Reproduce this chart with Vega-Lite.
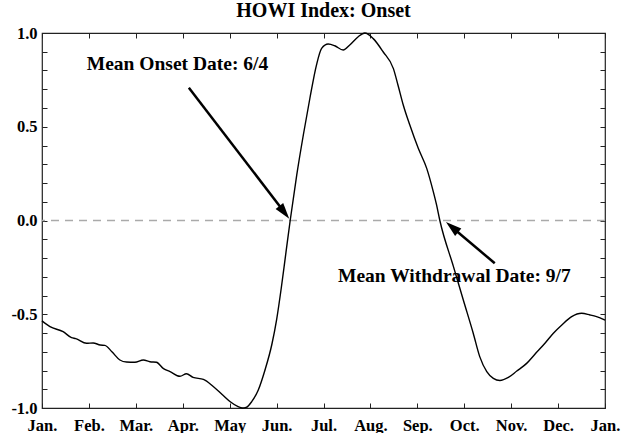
{
  "$schema": "https://vega.github.io/schema/vega-lite/v6.json",
  "width": 563,
  "height": 375,
  "autosize": "none",
  "padding": {"left": 42, "top": 33, "right": 18, "bottom": 25},
  "background": "white",
  "title": {"text": "HOWI Index: Onset", "font": "Liberation Serif", "fontSize": 20, "fontWeight": "bold", "color": "black", "anchor": "middle", "offset": 4},
  "config": {
    "view": {"stroke": "#222", "strokeWidth": 1.2},
    "font": "Liberation Serif",
    "axis": {"grid": false, "domain": false, "title": null, "tickSize": -5, "tickColor": "#222", "tickWidth": 1, "labelFont": "Liberation Serif", "labelFontWeight": "bold", "labelFontSize": 16.5, "labelColor": "black", "labelOverlap": false, "labelFlush": false}
  },
  "datasets": {
    "curve": [
      {"m": 0.0, "v": -0.535}, {"m": 0.17, "v": -0.566}, {"m": 0.45, "v": -0.593}, {"m": 0.63, "v": -0.625}, {"m": 0.72, "v": -0.63},
      {"m": 0.95, "v": -0.655}, {"m": 1.09, "v": -0.653}, {"m": 1.24, "v": -0.664}, {"m": 1.34, "v": -0.666}, {"m": 1.49, "v": -0.70},
      {"m": 1.66, "v": -0.744}, {"m": 1.8, "v": -0.755}, {"m": 1.98, "v": -0.756}, {"m": 2.16, "v": -0.744}, {"m": 2.3, "v": -0.753},
      {"m": 2.44, "v": -0.756}, {"m": 2.59, "v": -0.79}, {"m": 2.73, "v": -0.806}, {"m": 2.94, "v": -0.831}, {"m": 3.08, "v": -0.817},
      {"m": 3.22, "v": -0.837}, {"m": 3.44, "v": -0.847}, {"m": 3.65, "v": -0.885}, {"m": 3.84, "v": -0.928}, {"m": 4.02, "v": -0.968},
      {"m": 4.18, "v": -0.993}, {"m": 4.27, "v": -1.0}, {"m": 4.35, "v": -0.997}, {"m": 4.47, "v": -0.966}, {"m": 4.61, "v": -0.904},
      {"m": 4.75, "v": -0.8}, {"m": 4.9, "v": -0.66}, {"m": 5.0, "v": -0.53}, {"m": 5.1, "v": -0.36}, {"m": 5.2, "v": -0.17},
      {"m": 5.29, "v": 0.0}, {"m": 5.43, "v": 0.243}, {"m": 5.57, "v": 0.456}, {"m": 5.71, "v": 0.652}, {"m": 5.85, "v": 0.829},
      {"m": 5.96, "v": 0.918}, {"m": 6.1, "v": 0.941}, {"m": 6.24, "v": 0.932}, {"m": 6.42, "v": 0.909}, {"m": 6.56, "v": 0.936},
      {"m": 6.74, "v": 0.98}, {"m": 6.88, "v": 1.0}, {"m": 7.06, "v": 0.97}, {"m": 7.27, "v": 0.9}, {"m": 7.49, "v": 0.81},
      {"m": 7.59, "v": 0.72}, {"m": 7.7, "v": 0.616}, {"m": 7.84, "v": 0.509}, {"m": 8.02, "v": 0.385}, {"m": 8.2, "v": 0.278},
      {"m": 8.34, "v": 0.154}, {"m": 8.41, "v": 0.083}, {"m": 8.48, "v": 0.0}, {"m": 8.77, "v": -0.246}, {"m": 8.98, "v": -0.424},
      {"m": 9.19, "v": -0.6}, {"m": 9.33, "v": -0.726}, {"m": 9.48, "v": -0.806}, {"m": 9.62, "v": -0.842}, {"m": 9.76, "v": -0.853},
      {"m": 9.94, "v": -0.837}, {"m": 10.12, "v": -0.803}, {"m": 10.33, "v": -0.762}, {"m": 10.51, "v": -0.712}, {"m": 10.72, "v": -0.655},
      {"m": 10.9, "v": -0.601}, {"m": 11.08, "v": -0.557}, {"m": 11.29, "v": -0.513}, {"m": 11.5, "v": -0.495}, {"m": 11.68, "v": -0.504},
      {"m": 11.82, "v": -0.513}, {"m": 12.0, "v": -0.531}
    ],
    "zero": [{"v": 0}],
    "onsetShaft": [{"m": 3.13, "v": 0.708, "m2": 5.166, "v2": 0.044}],
    "onsetHead": [{"m": 5.27, "v": 0.01}],
    "wdShaft": [{"m": 9.65, "v": -0.228, "m2": 8.74, "v2": -0.036}],
    "wdHead": [{"m": 8.61, "v": -0.008}],
    "labels": [
      {"m": 2.888, "v": 0.803, "label": "Mean Onset Date: 6/4"},
      {"m": 8.79, "v": -0.326, "label": "Mean Withdrawal Date: 9/7"}
    ]
  },
  "resolve": {"axis": {"x": "independent", "y": "independent"}},
  "layer": [
    {
      "data": {"name": "zero"},
      "mark": {"type": "rule", "color": "#aaaaaa", "strokeWidth": 1.5, "strokeDash": [8, 6]},
      "encoding": {
        "y": {"field": "v", "type": "quantitative", "scale": {"domain": [-1, 1], "nice": false, "zero": false},
          "axis": {"orient": "right", "labels": false, "values": [-1, -0.9, -0.8, -0.7, -0.6, -0.5, -0.4, -0.3, -0.2, -0.1, 0, 0.1, 0.2, 0.3, 0.4, 0.5, 0.6, 0.7, 0.8, 0.9, 1]}}
      }
    },
    {
      "data": {"name": "curve"},
      "mark": {"type": "line", "color": "black", "strokeWidth": 1.4, "interpolate": "monotone"},
      "encoding": {
        "x": {"field": "m", "type": "quantitative", "scale": {"domain": [0, 12], "nice": false, "zero": false},
          "axis": {"orient": "bottom", "values": [0, 1, 2, 3, 4, 5, 6, 7, 8, 9, 10, 11, 12], "labelPadding": 14, "labelExpr": "['Jan.','Feb.','Mar.','Apr.','May','Jun.','Jul.','Aug.','Sep.','Oct.','Nov.','Dec.','Jan.'][round(datum.value)]"}},
        "y": {"field": "v", "type": "quantitative",
          "axis": {"orient": "left", "labelPadding": 10, "values": [-1, -0.9, -0.8, -0.7, -0.6, -0.5, -0.4, -0.3, -0.2, -0.1, 0, 0.1, 0.2, 0.3, 0.4, 0.5, 0.6, 0.7, 0.8, 0.9, 1],
            "labelExpr": "datum.value > 0.99 ? '1.0' : (datum.value > 0.49 && datum.value < 0.51) ? '0.5' : abs(datum.value) < 0.01 ? '0.0' : (datum.value < -0.49 && datum.value > -0.51) ? '-0.5' : datum.value < -0.99 ? '-1.0' : ''"}}
      }
    },
    {
      "data": {"name": "onsetShaft"},
      "mark": {"type": "rule", "color": "black", "strokeWidth": 2.5},
      "encoding": {
        "x": {"field": "m", "type": "quantitative", "axis": {"orient": "top", "labels": false, "values": [0, 1, 2, 3, 4, 5, 6, 7, 8, 9, 10, 11, 12]}},
        "x2": {"field": "m2"},
        "y": {"field": "v", "type": "quantitative", "axis": null},
        "y2": {"field": "v2"}
      }
    },
    {
      "data": {"name": "wdShaft"},
      "mark": {"type": "rule", "color": "black", "strokeWidth": 2.5},
      "encoding": {
        "x": {"field": "m", "type": "quantitative", "axis": null},
        "x2": {"field": "m2"},
        "y": {"field": "v", "type": "quantitative", "axis": null},
        "y2": {"field": "v2"}
      }
    },
    {
      "data": {"name": "onsetHead"},
      "mark": {"type": "point", "filled": true, "color": "black", "opacity": 1, "shape": "M0,0L0.6,2L-0.6,2Z", "size": 256, "angle": 142},
      "encoding": {
        "x": {"field": "m", "type": "quantitative", "axis": null},
        "y": {"field": "v", "type": "quantitative", "axis": null}
      }
    },
    {
      "data": {"name": "wdHead"},
      "mark": {"type": "point", "filled": true, "color": "black", "opacity": 1, "shape": "M0,0L0.6,2L-0.6,2Z", "size": 256, "angle": 310},
      "encoding": {
        "x": {"field": "m", "type": "quantitative", "axis": null},
        "y": {"field": "v", "type": "quantitative", "axis": null}
      }
    },
    {
      "data": {"name": "labels"},
      "mark": {"type": "text", "font": "Liberation Serif", "fontWeight": "bold", "fontSize": 19.5, "color": "black", "align": "center", "baseline": "alphabetic"},
      "encoding": {
        "x": {"field": "m", "type": "quantitative", "axis": null},
        "y": {"field": "v", "type": "quantitative", "axis": null},
        "text": {"field": "label"}
      }
    }
  ]
}
